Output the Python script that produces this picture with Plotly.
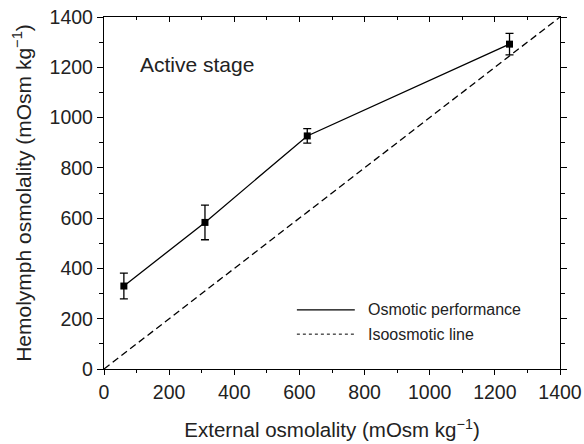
import plotly.graph_objects as go

# Data
external = [61, 310, 624, 1245]
hemolymph = [330, 583, 927, 1292]
hemolymph_err = [51, 69, 29, 43]
iso_x = [0, 1400]
iso_y = [0, 1400]

FONT = "Liberation Sans, Arial, sans-serif"
TXT = "#222"

fig = go.Figure()

fig.add_trace(go.Scatter(
    x=iso_x, y=iso_y, mode="lines", xaxis="x2",
    line=dict(color="black", width=1.3, dash="7px,4px"),
    showlegend=False, hoverinfo="skip"))

fig.add_trace(go.Scatter(
    x=external, y=hemolymph, mode="lines+markers",
    line=dict(color="black", width=1.3),
    marker=dict(symbol="square", size=7, color="black"),
    error_y=dict(type="data", array=hemolymph_err, color="black",
                 thickness=1.3, width=4),
    showlegend=False))

axis_common = dict(
    range=[0, 1400], dtick=200, showgrid=False, zeroline=False,
    showline=True, linecolor="black", linewidth=1.3, automargin=False,
    tickfont=dict(family=FONT, size=19.5, color=TXT),
    tickcolor="black", tickwidth=1.2,
)

fig.update_layout(
    width=584, height=444,
    margin=dict(l=104, r=24, t=17, b=75),
    paper_bgcolor="white", plot_bgcolor="white",
    xaxis=dict(**axis_common, ticks="outside", ticklen=5,
               minor=dict(dtick=100, ticks="outside", ticklen=3,
                          tickcolor="black", tickwidth=1.2),
               title=dict(text="External osmolality (mOsm kg<sup>−1</sup>)",
                          font=dict(family=FONT, size=20.5, color=TXT),
                          standoff=21)),
    xaxis2=dict(range=[0, 1400], dtick=200, overlaying="x", side="top",
                anchor="y", showgrid=False, zeroline=False, showline=True,
                automargin=False,
                linecolor="black", linewidth=1.3, ticks="inside", ticklen=5,
                tickcolor="black", tickwidth=1.2, showticklabels=False,
                minor=dict(dtick=100, ticks="inside", ticklen=3,
                           tickcolor="black", tickwidth=1.2)),
    yaxis=dict(**axis_common, ticks="outside", ticklen=6, mirror="ticks",
               minor=dict(dtick=100, ticks="outside", ticklen=4,
                          tickcolor="black", tickwidth=1.2),
               title=dict(text="Hemolymph osmolality (mOsm kg<sup>−1</sup>)",
                          font=dict(family=FONT, size=21, color=TXT),
                          standoff=12)),
    annotations=[
        dict(text="Active stage", x=0.074, y=1210, xref="paper", yref="y",
             xanchor="left", yanchor="middle", showarrow=False,
             font=dict(family=FONT, size=21, color=TXT)),
        dict(text="Osmotic performance", x=0.574, y=0.168, xref="paper",
             yref="paper", xanchor="left", yanchor="middle", showarrow=False,
             font=dict(family=FONT, size=16, color=TXT)),
        dict(text="Isoosmotic line", x=0.574, y=0.099, xref="paper",
             yref="paper", xanchor="left", yanchor="middle", showarrow=False,
             font=dict(family=FONT, size=16, color=TXT)),
    ],
    shapes=[
        dict(type="line", xref="paper", yref="paper", x0=0.423, x1=0.55,
             y0=0.168, y1=0.168, line=dict(color="black", width=1.2)),
        dict(type="line", xref="paper", yref="paper", x0=0.423, x1=0.55,
             y0=0.099, y1=0.099, line=dict(color="black", width=1, dash="dot")),
    ],
)

fig.write_html("out.html")
